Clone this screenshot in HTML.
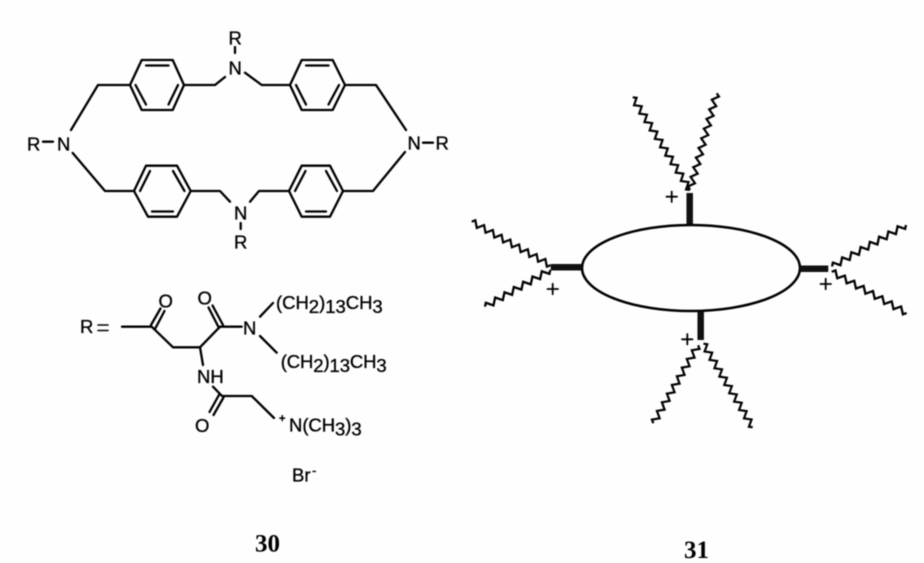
<!DOCTYPE html>
<html><head><meta charset="utf-8">
<style>
html,body{margin:0;padding:0;background:#fefefe;width:924px;height:563px;overflow:hidden}
svg{display:block;filter:blur(.45px)}
text{font-family:"Liberation Sans",sans-serif;font-size:18.5px;fill:#000;stroke:#000;stroke-width:.35px}
.b{font-family:"Liberation Serif",serif;font-weight:bold;font-size:25px;fill:#000;stroke:none}
.l{fill:none;stroke:#000;stroke-width:2.3;stroke-linejoin:round;stroke-linecap:round}
.w{fill:none;stroke:#000;stroke-width:2.2;stroke-linejoin:miter}
.s{stroke:#111;stroke-width:6.5}
</style></head><body>
<svg width="924" height="563" viewBox="0 0 924 563" xmlns="http://www.w3.org/2000/svg">
<defs>
<path id="w7" d="M0 0l2.5-3l5 6l2.5-3l2.5-3l5 6l2.5-3l2.5-3l5 6l2.5-3l2.5-3l5 6l2.5-3l2.5-3l5 6l2.5-3l2.5-3l5 6l2.5-3l2.5-3l5 6l2.5-3"/>
<path id="w8" d="M0 0l2.5-3l5 6l2.5-3l2.5-3l5 6l2.5-3l2.5-3l5 6l2.5-3l2.5-3l5 6l2.5-3l2.5-3l5 6l2.5-3l2.5-3l5 6l2.5-3l2.5-3l5 6l2.5-3l2.5-3l5 6l2.5-3"/>
<path id="w9" d="M0 0l2.5-3l5 6l2.5-3l2.5-3l5 6l2.5-3l2.5-3l5 6l2.5-3l2.5-3l5 6l2.5-3l2.5-3l5 6l2.5-3l2.5-3l5 6l2.5-3l2.5-3l5 6l2.5-3l2.5-3l5 6l2.5-3l2.5-3l5 6l2.5-3"/>
<path id="w10" d="M0 0l2.5-3l5 6l2.5-3l2.5-3l5 6l2.5-3l2.5-3l5 6l2.5-3l2.5-3l5 6l2.5-3l2.5-3l5 6l2.5-3l2.5-3l5 6l2.5-3l2.5-3l5 6l2.5-3l2.5-3l5 6l2.5-3l2.5-3l5 6l2.5-3l2.5-3l5 6l2.5-3"/>
<path id="w11" d="M0 0l2.5-3l5 6l2.5-3l2.5-3l5 6l2.5-3l2.5-3l5 6l2.5-3l2.5-3l5 6l2.5-3l2.5-3l5 6l2.5-3l2.5-3l5 6l2.5-3l2.5-3l5 6l2.5-3l2.5-3l5 6l2.5-3l2.5-3l5 6l2.5-3l2.5-3l5 6l2.5-3l2.5-3l5 6l2.5-3"/>
</defs>

<!-- macrocycle -->
<g class="l">
<path d="M141.7 60H172.7L184 85L172.7 110H141.7L130 85Z"/>
<path d="M146 65.5H168.5M178 85L168.5 104.5M135.5 85L146 104.5"/>
<path d="M301.7 60H332.7L345 85L332.7 110H301.7L290 85Z"/>
<path d="M306 65.5H328.5M339 85L328.5 104.5M296 85L306 104.5"/>
<path d="M146 165.7H177L190.7 191L177 216.7H148L134 191Z"/>
<path d="M150 171L140 191M173 171L184.5 191M152 211.5H173"/>
<path d="M301.7 165.7H330L343 191L330 216.7H301.7L289 191Z"/>
<path d="M305.5 171L295 191M326 171L337 191M306 211.5H326"/>
<path d="M71 130L98 85H130M184 85H215L225 77M245 72.7L261.7 85H290M345 85H376L406 130"/>
<path d="M72.7 153L105 191H134M190.7 191H220L230 201.7M250 201.7L259 191H289M343 191H373L405 152"/>
<path d="M235 47V53M240.7 223V229M43 141.7H53M423 142.7H433"/>
</g>
<text x="228.5" y="44.5">R</text>
<text x="228.5" y="74.5">N</text>
<text x="27" y="150.5">R</text>
<text x="57" y="150.5">N</text>
<text x="407.5" y="149.5">N</text>
<text x="435.5" y="149.5">R</text>
<text x="234" y="219.5">N</text>
<text x="234" y="248.5">R</text>

<!-- R group -->
<text x="80" y="333">R</text>
<g class="l" style="stroke-width:1.6">
<path d="M98 325H108M98 330.5H108"/>
</g>
<g class="l">
<path d="M122 326.7H151.7L173 347.3H200L220 326.7H241.7"/>
<path d="M151 325L160.5 308.5M155 329L164.5 311"/>
<path d="M219 328L208.5 307.5M223 325L212.5 305.5"/>
<path d="M260 316.7L273 303M260 336L276.7 352.7M200 347.3L203 365"/>
<path d="M213 386.7L222 396H251.7L274 418"/>
<path d="M219.5 394L209.5 412M223.5 397.5L213.5 415"/>
</g>
<text x="158.5" y="307.5">O</text>
<text x="197.5" y="304.5">O</text>
<text x="243" y="334.5">N</text>
<text x="197" y="383">NH</text>
<text x="195" y="432">O</text>
<text x="276" y="309" textLength="106.7">(CH<tspan dy="4">2</tspan><tspan dy="-4">)</tspan><tspan dy="4">13</tspan><tspan dy="-4">CH</tspan><tspan dy="4">3</tspan></text>
<text x="280.7" y="368" textLength="106">(CH<tspan dy="4">2</tspan><tspan dy="-4">)</tspan><tspan dy="4">13</tspan><tspan dy="-4">CH</tspan><tspan dy="4">3</tspan></text>
<text x="279" y="422" style="font-size:11px;font-weight:bold">+</text>
<text x="289" y="431.7" textLength="72.7">N(CH<tspan dy="4">3</tspan><tspan dy="-4">)</tspan><tspan dy="4">3</tspan></text>
<text x="292" y="481.7">Br</text>
<text x="312" y="475" style="font-size:13px">-</text>
<text class="b" x="255" y="551.7">30</text>

<!-- micelle 31 -->
<ellipse cx="691" cy="268" rx="109" ry="43" fill="none" stroke="#000" stroke-width="2.5"/>
<g class="s">
<line x1="689.7" y1="193" x2="689.7" y2="224"/>
<line x1="550.7" y1="267.3" x2="581.7" y2="267.3"/>
<line x1="800" y1="268.7" x2="828.3" y2="268.7"/>
<line x1="700.7" y1="311.7" x2="700.7" y2="340"/>
</g>
<g class="w">
<use href="#w11" transform="translate(632.7 97.3) rotate(58.3) scale(.99 1)"/>
<use href="#w10" transform="translate(716.7 93.3) rotate(105.4)"/>
<use href="#w9" transform="translate(471.7 221.7) rotate(28.9)"/>
<use href="#w7" transform="translate(485 306.7) rotate(-29.4) scale(1.07 1)"/>
<use href="#w8" transform="translate(906 225) rotate(150.7) scale(1.06 1)"/>
<use href="#w8" transform="translate(906.7 313) rotate(-151.2) scale(1.07 1)"/>
<use href="#w9" transform="translate(653.3 423.3) rotate(-60.1)"/>
<use href="#w10" transform="translate(752.7 427.3) rotate(-120.5) scale(.97 1)"/>
</g>
<g class="l" style="stroke-width:1.8">
<path d="M666.5 196.7H677M671.7 191.5V202"/>
<path d="M547.5 289H558M552.7 283.8V294.2"/>
<path d="M820.5 284H831M825.7 278.8V289.2"/>
<path d="M682 339.3H692.5M687.3 334V344.5"/>
</g>
<text class="b" x="684" y="558">31</text>
</svg>
</body></html>
